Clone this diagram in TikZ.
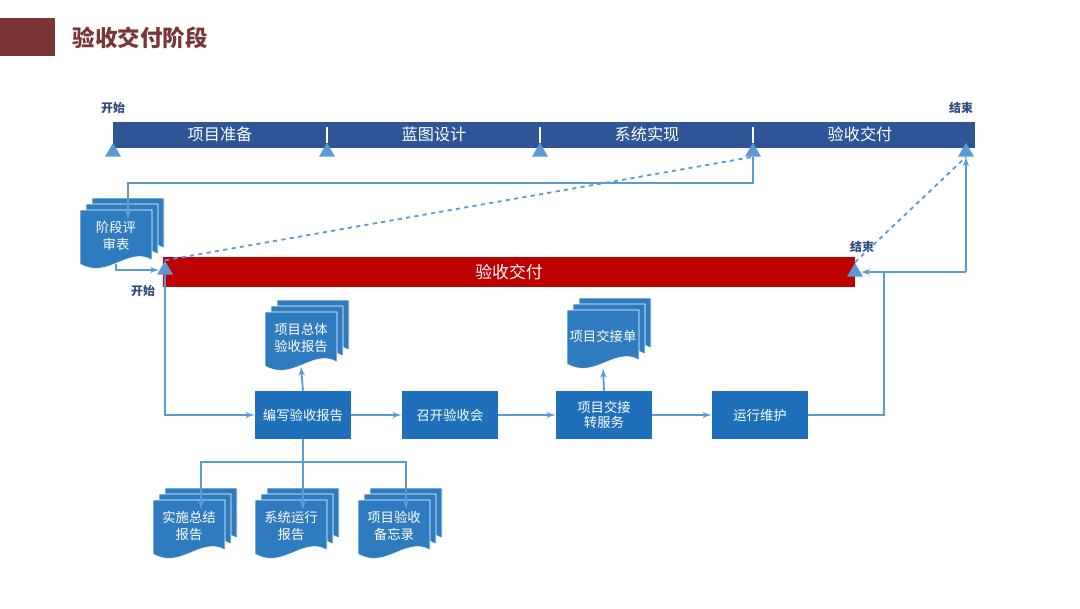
\documentclass[tikz,border=0pt]{standalone}
\usepackage{fontspec}
\setmainfont{Noto Sans CJK SC}
\usetikzlibrary{%
  positioning
 ,arrows
 ,calc
 ,shapes
}
\definecolor{barblue}{HTML}{2F5597}
\definecolor{lightblue}{HTML}{5B9BD5}
\definecolor{boxblue}{HTML}{1F70BA}
\definecolor{docblue}{HTML}{2E7CBF}
\definecolor{darkred}{HTML}{7A3535}
\definecolor{labblue}{HTML}{2F4A7F}
\tikzstyle{tri}=[regular polygon,regular polygon sides=3,fill=lightblue,minimum size=0.46cm,inner sep=0pt]
\tikzstyle{proc}=[fill=boxblue,text=white,font=\fontsize{9.5}{11}\selectfont,minimum width=2.4cm,minimum height=1.2cm,inner sep=1pt,align=center]
\tikzstyle{doctext}=[text=white,font=\fontsize{9.5}{12}\selectfont,minimum width=1.8cm,minimum height=1.4cm,inner sep=0pt,align=center]
\tikzstyle{lab}=[text=labblue,font=\fontsize{8.5}{10}\selectfont\bfseries]
% a stack of three pages with a wavy bottom
\newcommand\docstack[3]{%
  \begin{scope}[shift={#2}]
    \foreach \d in {12,6,0}
      \filldraw[fill=docblue,draw=white,thin]
        (-36+\d,-28-\d) -- (36+\d,-28-\d) -- (36+\d,22-\d)
        .. controls (12+\d,8-\d) and (-8+\d,42-\d) .. (-36+\d,26-\d) -- cycle;
    \node[doctext] (#1) at (0,-2) {#3};
  \end{scope}}
\begin{document}
\begin{tikzpicture}[x=0.025cm,y=-0.025cm,
    line/.style={draw=lightblue,line width=1.3pt},
    every edge/.style={draw=lightblue,line width=1.3pt,-latex'}]
  \useasboundingbox (0,0) rectangle (1080,608);
  % title
  \fill[darkred] (0,18) rectangle (55,56);
  \node[anchor=west,text=darkred,font=\fontsize{16}{18}\selectfont\bfseries] (title) at (68,38) {验收交付阶段};
  % the phase bar
  \node[fill=barblue,minimum width=21.55cm,minimum height=0.65cm,inner sep=0pt] (bar) at (544,135) {};
  \foreach \x in {327,540,753}
    \draw[white,line width=1.2pt] (\x,127) -- (\x,143);
  \foreach \x/\t in {220/项目准备,434/蓝图设计,647/系统实现,860/验收交付}
    \node[text=white,font=\fontsize{11.5}{13}\selectfont] at (\x,134) {\t};
  \node[tri] (t1) at (113,152) {};
  \node[tri] (t2) at (327,152) {};
  \node[tri] (t3) at (540,152) {};
  \node[tri] (t4) at (753,152) {};
  \node[tri] (t5) at (966,152) {};
  \node[lab] (s1) at (113,108) {开始};
  \node[lab] (e1) at (961,108) {结束};
  % the red bar
  \node[fill=red!75!black,text=white,font=\fontsize{12}{14}\selectfont,minimum width=17.3cm,minimum height=0.75cm,inner sep=0pt] (red) at (509,272) {验收交付};
  \node[tri] (rt1) at (165,270) {};
  \node[tri] (rt2) at (855,272) {};
  \node[lab] (s2) at (143,291) {开始};
  \node[lab] (e2) at (862,247) {结束};
  % the documents
  \docstack{rev}{(116,238)}{阶段评\\审表}
  \docstack{tot}{(301,340)}{项目总体\\验收报告}
  \docstack{hand}{(603,338)}{项目交接单}
  \docstack{imp}{(189,528)}{实施总结\\报告}
  \docstack{run}{(291,528)}{系统运行\\报告}
  \docstack{memo}{(394,528)}{项目验收\\备忘录}
  % the steps
  \node[proc] (b1) at (303,415) {编写验收报告};
  \node[proc] (b2) at (450,415) {召开验收会};
  \node[proc] (b3) at (604,415) {项目交接\\转服务};
  \node[proc] (b4) at (760,415) {运行维护};
  \coordinate (j) at (884,272);
  \coordinate (k) at (966,272);
  % the arrows
  \draw[line,-latex'] (t4.south) -- ++(0,26) -| ([xshift=0.3cm,yshift=-0.3cm]rev.north);
  \draw[line,-latex'] (rev.south) |- (rt1.west);
  \draw[line,dashed] (rt1.north) -- (t4.south);
  \draw[line,dashed] (rt2.north) -- (t5.south);
  \draw[line,-latex'] (rt1.south) |- (b1.west);
  \draw (b1)edge(b2) (b2)edge(b3) (b3)edge(b4);
  \draw (b1.north)edge(tot.south) (b3.north)edge([yshift=-0.1cm]hand.south);
  \draw[line] (b4.east) -| (j);
  \draw[line,-latex'] (k) -- (rt2.east);
  \draw[line,-latex'] (k) -- (t5.south);
  \draw[line] (b1.south) -- ++(0,23) coordinate (split);
  \draw[line,-latex'] (split) -| ([xshift=0.3cm,yshift=-0.3cm]imp.north);
  \draw[line,-latex'] (split) -| ([xshift=0.3cm,yshift=-0.3cm]run.north);
  \draw[line,-latex'] (split) -| ([xshift=0.3cm,yshift=-0.3cm]memo.north);
\end{tikzpicture}
\end{document}
